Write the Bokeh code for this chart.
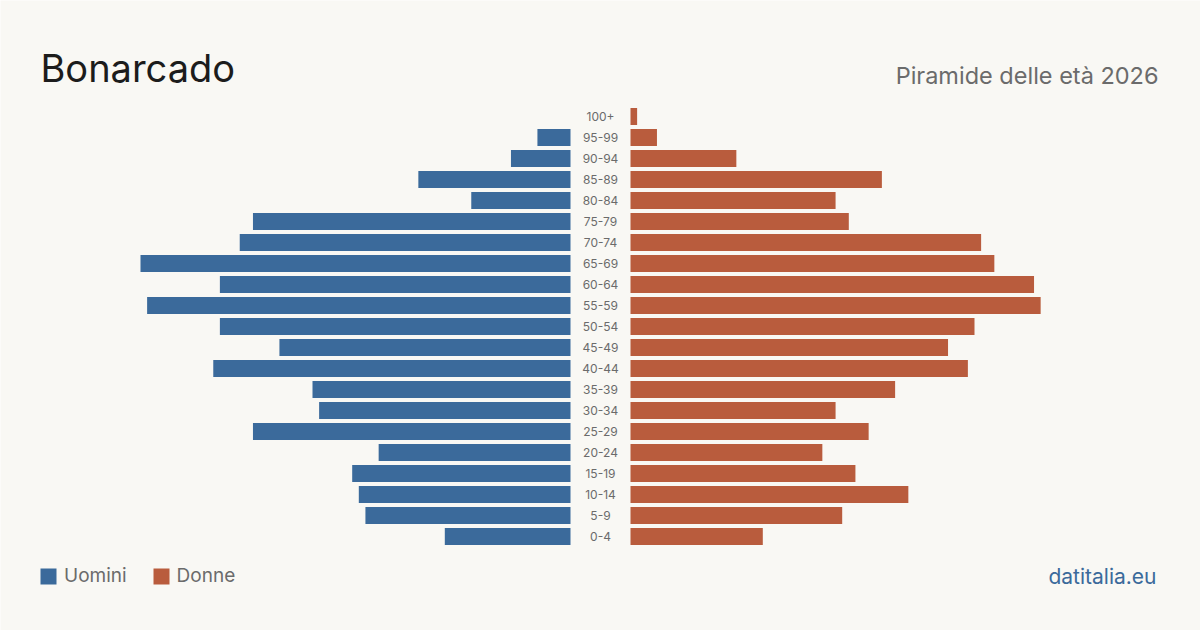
from bokeh.plotting import figure
from bokeh.models import Range1d, Label, Legend, LegendItem, ColumnDataSource
from bokeh.core.properties import value
from bokeh.embed import file_html
from bokeh.resources import INLINE

# ---- data ----
age_groups = ["0-4", "5-9", "10-14", "15-19", "20-24", "25-29", "30-34", "35-39",
              "40-44", "45-49", "50-54", "55-59", "60-64", "65-69", "70-74",
              "75-79", "80-84", "85-89", "90-94", "95-99", "100+"]
males = [19, 31, 32, 33, 29, 48, 38, 39, 54, 44, 53, 64, 53, 65, 50, 48, 15, 23, 9, 5, 0]
females = [20, 32, 42, 34, 29, 36, 31, 40, 51, 48, 52, 62, 61, 55, 53, 33, 31, 38, 16, 4, 1]

title_text = "Bonarcado"
subtitle_text = "Piramide delle età 2026"
source_text = "datitalia.eu"

BLUE = "#3b6a9b"
ORANGE = "#b95c3d"
BG = "#f9f8f4"
FONT = "Inter"

W, H = 1200, 630
px_per_unit = 430 / 65.0     # horizontal scale: persons -> pixels
half_gap = 30 / px_per_unit  # gap for labels in the middle
row_px = 21.0

idx = list(range(len(age_groups)))
src = ColumnDataSource(dict(
    y=idx,
    label=age_groups,
    m=males,
    f=females,
    m_left=[-(half_gap + v) for v in males],
    m_right=[-half_gap] * len(males),
    f_left=[half_gap] * len(females),
    f_right=[half_gap + v for v in females],
    zero=[0] * len(idx),
))

p = figure(width=W, height=H, output_backend="svg", toolbar_location=None,
           min_border=0, min_border_left=0, min_border_right=0,
           min_border_top=0, min_border_bottom=0,
           x_range=Range1d(-600 / px_per_unit, 600 / px_per_unit),
           y_range=Range1d(-(630 - 536.0) / row_px, 536.0 / row_px))
p.background_fill_color = BG
p.border_fill_color = BG
p.outline_line_color = None
p.xaxis.visible = False
p.yaxis.visible = False
p.xgrid.visible = False
p.ygrid.visible = False

bar_h = 17 / row_px
rm = p.hbar(y="y", left="m_left", right="m_right", height=bar_h, source=src,
            fill_color=BLUE, line_color=None)
rf = p.hbar(y="y", left="f_left", right="f_right", height=bar_h, source=src,
            fill_color=ORANGE, line_color=None)

p.text(x="zero", y="y", text="label", source=src, text_align="center",
       text_baseline="middle", text_font=value(FONT), text_font_size="12px",
       text_color="#6b6b6b")

p.add_layout(Label(x=40, y=H - 90, x_units="screen", y_units="screen",
                   text=title_text, text_font=FONT, text_font_size="38px",
                   text_color="#1c1c1c"))
p.add_layout(Label(x=1158, y=H - 89, x_units="screen", y_units="screen",
                   text=subtitle_text, text_font=FONT, text_font_size="23.5px",
                   text_color="#6b6b6b", text_align="right"))
p.add_layout(Label(x=1156, y=H - 588, x_units="screen", y_units="screen",
                   text=source_text, text_font=FONT, text_font_size="21px",
                   text_color="#3b6a9b", text_align="right"))

legend = Legend(items=[LegendItem(label="Uomini", renderers=[rm]),
                       LegendItem(label="Donne", renderers=[rf])],
                orientation="horizontal", location=(38, 43),
                glyph_width=20, glyph_height=20, label_standoff=6,
                spacing=24, padding=0, margin=0,
                label_text_font=FONT, label_text_font_size="19px",
                label_text_color="#6b6b6b", label_height=20,
                background_fill_alpha=0, border_line_color=None)
p.add_layout(legend)

open("out.html", "w").write(file_html(p, INLINE))
